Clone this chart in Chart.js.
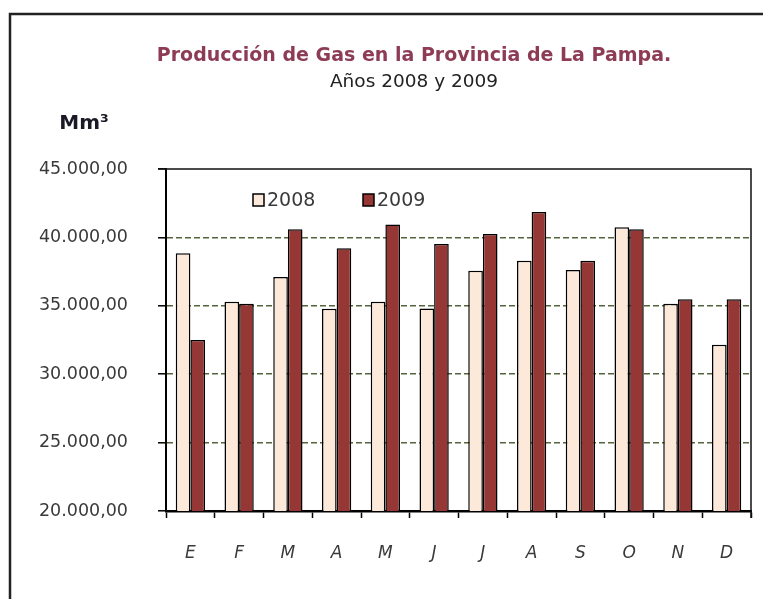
<!DOCTYPE html>
<html>
<head>
<meta charset="utf-8">
<script src="https://cdn.jsdelivr.net/npm/chart.js@4/dist/chart.umd.min.js"></script>
<style>
  html, body { margin: 0; padding: 0; background: #fff; }
  #wrap { width: 763px; height: 599px; }
</style>
</head>
<body>
<div id="wrap"><canvas id="gas-chart" width="763" height="599"></canvas></div>
<script>
// Producción de gas, La Pampa (Mm³), 2008 vs 2009
const months = ['E', 'F', 'M', 'A', 'M', 'J', 'J', 'A', 'S', 'O', 'N', 'D'];
const seriesNames = ['2008', '2009'];
const prod2008 = [38850, 35300, 37100, 34780, 35300, 34800, 37570, 38300, 37620, 40750, 35150, 32150];
const prod2009 = [32500, 35150, 40600, 39200, 40950, 39520, 40250, 41850, 38300, 40600, 35480, 35480];
const yTicks = [20000, 25000, 30000, 35000, 40000, 45000];

const titleLines = ['Producción de Gas en la Provincia de La Pampa.', 'Años 2008 y 2009'];
const unitLabel = 'Mm³';

const fill2008 = '#FDE9D9';
const fill2009 = '#953735';

// 45000 -> "45.000,00"
function formatNumber(v) {
    const int = Math.round(v).toString().replace(/\B(?=(\d{3})+(?!\d))/g, '.');
    return int + ',00';
}

// Title, unit label, outer frame, plot frame and legend
const decorPlugin = {
    id: 'decor',
    beforeDraw(chart) {
        const ctx = chart.ctx;
        ctx.save();
        ctx.fillStyle = '#fff';
        ctx.fillRect(0, 0, chart.width, chart.height);
        // outer frame (top and left edges visible)
        ctx.strokeStyle = '#222';
        ctx.lineWidth = 2.5;
        ctx.beginPath();
        ctx.moveTo(chart.width, 14);
        ctx.lineTo(10, 14);
        ctx.lineTo(10, chart.height);
        ctx.stroke();
        ctx.restore();
    },
    afterDraw(chart) {
        const { ctx, chartArea: area } = chart;
        ctx.save();

        // plot frame: top and right
        ctx.strokeStyle = '#111';
        ctx.lineWidth = 1.5;
        ctx.beginPath();
        ctx.moveTo(area.left - 8, area.top);
        ctx.lineTo(area.right, area.top);
        ctx.lineTo(area.right, area.bottom + 7);
        ctx.stroke();

        // title
        ctx.textAlign = 'center';
        ctx.textBaseline = 'middle';
        ctx.fillStyle = '#8E3B55';
        ctx.font = 'bold 19px "DejaVu Sans"';
        ctx.fillText(titleLines[0], 414, 56);
        ctx.fillStyle = '#222';
        ctx.font = '18.5px "DejaVu Sans"';
        ctx.fillText(titleLines[1], 414, 82);

        // unit label
        ctx.fillStyle = '#1a1a26';
        ctx.font = 'bold 20px "DejaVu Sans"';
        ctx.fillText(unitLabel, 84, 124);

        // legend
        const items = chart.data.datasets;
        const legendX = [253, 363];
        ctx.textAlign = 'left';
        ctx.font = '19px "DejaVu Sans"';
        items.forEach((ds, i) => {
            const x = legendX[i];
            ctx.fillStyle = ds.backgroundColor;
            ctx.fillRect(x, 194, 11, 12);
            ctx.strokeStyle = '#000';
            ctx.lineWidth = 1.5;
            ctx.strokeRect(x, 194, 11, 12);
            ctx.fillStyle = '#3a3a3a';
            ctx.fillText(ds.label, x + 14, 201);
        });

        ctx.restore();
    }
};

new Chart(document.getElementById('gas-chart'), {
    type: 'bar',
    data: {
        labels: months,
        datasets: [{
            label: seriesNames[0],
            data: prod2008,
            backgroundColor: fill2008,
            borderColor: '#000',
            borderWidth: 1.5
        }, {
            label: seriesNames[1],
            data: prod2009,
            backgroundColor: fill2009,
            borderColor: '#000',
            borderWidth: 1.5
        }]
    },
    options: {
        responsive: false,
        animation: false,
        layout: {
            padding: { top: 169, right: 12, left: 0, bottom: 0 }
        },
        datasets: {
            bar: {
                categoryPercentage: 0.6,
                barPercentage: 1.0
            }
        },
        plugins: {
            legend: { display: false },
            title: { display: false },
            tooltip: { enabled: false }
        },
        scales: {
            x: {
                offset: true,
                grid: {
                    offset: true,
                    drawOnChartArea: false,
                    drawTicks: true,
                    tickLength: 7,
                    tickColor: '#000',
                    tickWidth: 1.5
                },
                border: { display: true, color: '#000', width: 2.5 },
                ticks: {
                    color: '#3a3a3a',
                    padding: 25,
                    font: { family: 'DejaVu Sans', size: 17, style: 'italic' }
                },
                afterFit(scale) { scale.height = 88; }
            },
            y: {
                min: yTicks[0],
                max: yTicks[yTicks.length - 1],
                afterBuildTicks(scale) {
                    scale.ticks = yTicks.map(v => ({ value: v }));
                },
                grid: {
                    color: (c) => (c.tick && (c.tick.value === 20000 || c.tick.value === 45000)) ? 'rgba(0,0,0,0)' : '#56643E',
                    lineWidth: 1.6,
                    tickLength: 8,
                    tickColor: '#000',
                    tickWidth: 1.5
                },
                border: { display: true, color: '#000', width: 2, dash: [6, 3] },
                ticks: {
                    color: '#3a3a3a',
                    padding: 30,
                    font: { family: 'DejaVu Sans', size: 17.5 },
                    callback: (v) => formatNumber(v)
                },
                afterFit(scale) { scale.width = 166; }
            }
        }
    },
    plugins: [decorPlugin]
});
</script>
</body>
</html>
